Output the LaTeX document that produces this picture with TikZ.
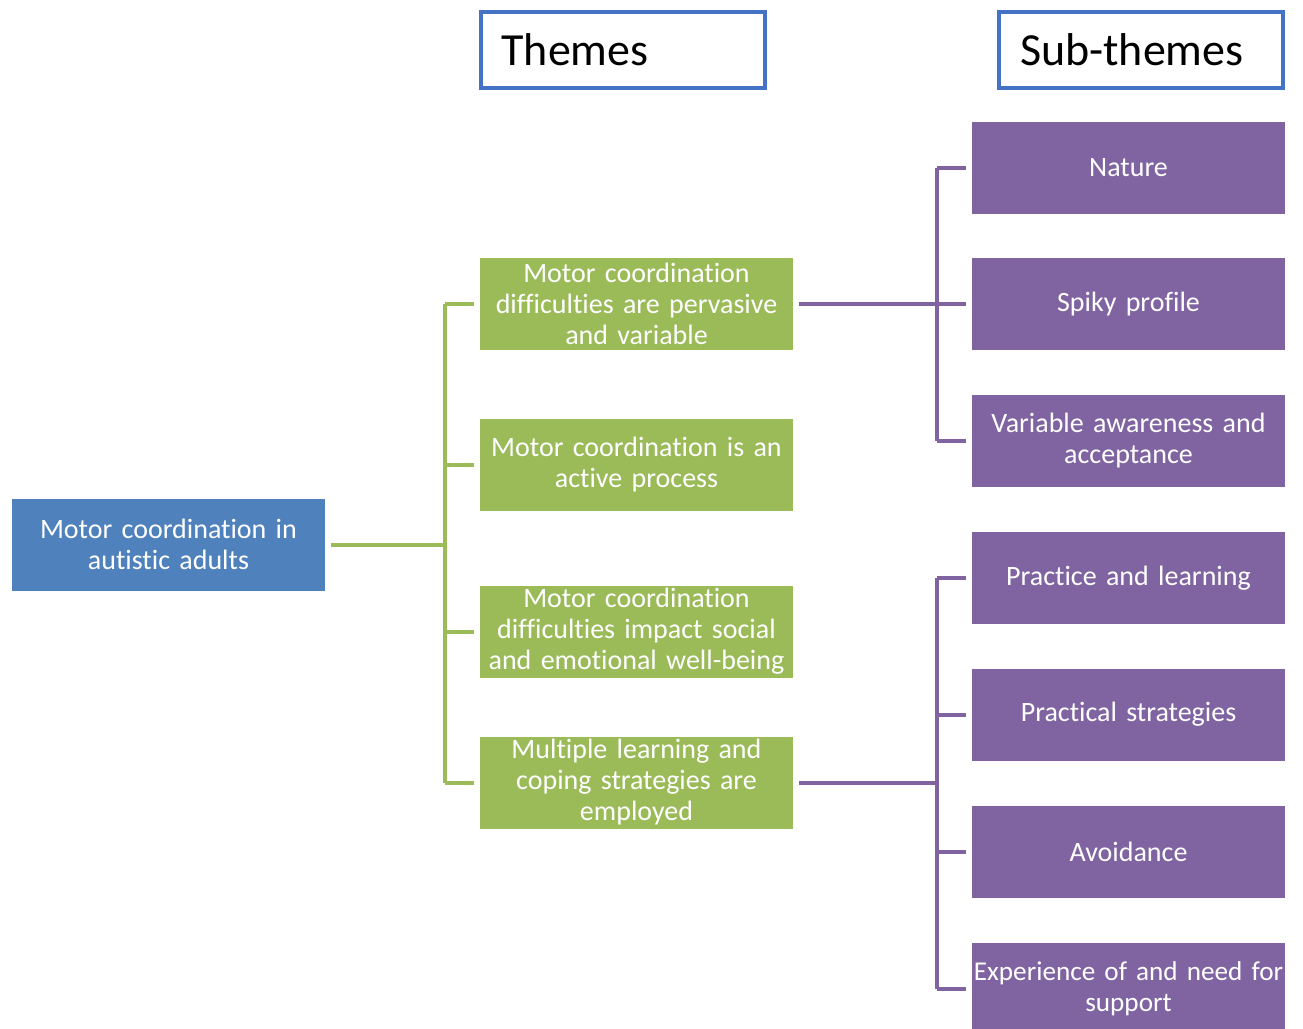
\documentclass[tikz,border=0pt]{standalone}
\usepackage{fontspec}
\setmainfont{Carlito}[Ligatures=NoCommon]
\definecolor{rootblue}{HTML}{4F81BD}
\definecolor{themegreen}{HTML}{9BBB59}
\definecolor{subpurple}{HTML}{8064A2}
\definecolor{headblue}{HTML}{4472C4}
\begin{document}
\begin{tikzpicture}[x=0.5pt,y=-0.5pt,
		box/.style={inner sep=0pt,minimum width=156.5pt,minimum height=46pt,text width=156.5pt,align=center,text=white,font=\fontsize{14}{15.5}\selectfont},
		rootbox/.style={box,fill=rootblue},
		themebox/.style={box,fill=themegreen},
		subbox/.style={box,fill=subpurple},
		headbox/.style={draw=headblue,line width=2pt,fill=white,minimum width=142pt,minimum height=38pt,text width=121pt,align=left,inner sep=0pt,font=\fontsize{23}{26}\selectfont},
		greenline/.style={draw=themegreen,line width=2pt},
		purpleline/.style={draw=subpurple,line width=2pt}]
		\useasboundingbox (0,0) rectangle (1303,1029);
		% headers
		\node[headbox] (themes) at (622.5,50) {Themes};
		\node[headbox] (subthemes) at (1141,50) {Sub-themes};
		% root
		\node[rootbox] (root) at (168.5,544.5) {Motor coordination in\\autistic adults};
		% themes
		\node[themebox] (t1) at (636.5,304) {Motor coordination\\difficulties are pervasive\\and variable};
		\node[themebox] (t2) at (636.5,464.5) {Motor coordination is an\\active process};
		\node[themebox] (t3) at (636.5,631.5) {Motor coordination\\difficulties impact social\\and emotional\ well-being};
		\node[themebox] (t4) at (636.5,782.5) {Multiple learning and\\coping strategies are\\employed};
		% sub-themes
		\node[subbox] (s1) at (1128.5,167.5) {Nature};
		\node[subbox] (s2) at (1128.5,304) {Spiky profile};
		\node[subbox] (s3) at (1128.5,441) {Variable awareness and\\acceptance};
		\node[subbox] (s4) at (1128.5,578) {Practice and learning};
		\node[subbox] (s5) at (1128.5,714.5) {Practical strategies};
		\node[subbox] (s6) at (1128.5,851.5) {Avoidance};
		\node[subbox,font=\fontsize{13.6}{15.5}\selectfont] (s7) at (1128.5,988.5) {\mbox{Experience of and need for}\\support};
		% root to themes
		\coordinate (gbus) at (445,544.5);
		\draw[greenline] ([xshift=3pt]root.east) -- (gbus);
		\draw[greenline] (gbus |- t1) -- (gbus |- t4);
		\foreach \t in {t1,t2,t3,t4}
		{
			\draw[greenline] (gbus |- \t) -- ([xshift=-3pt]\t.west);
		}
		% themes to sub-themes
		\coordinate (pbus) at (937,0);
		\draw[purpleline] ([xshift=3pt]t1.east) -- (pbus |- t1);
		\draw[purpleline] (pbus |- s1) -- (pbus |- s3);
		\foreach \s in {s1,s2,s3}
		{
			\draw[purpleline] (pbus |- \s) -- ([xshift=-3pt]\s.west);
		}
		\draw[purpleline] ([xshift=3pt]t4.east) -- (pbus |- t4);
		\draw[purpleline] (pbus |- s4) -- (pbus |- s7);
		\foreach \s in {s4,s5,s6,s7}
		{
			\draw[purpleline] (pbus |- \s) -- ([xshift=-3pt]\s.west);
		}
\end{tikzpicture}
\end{document}
